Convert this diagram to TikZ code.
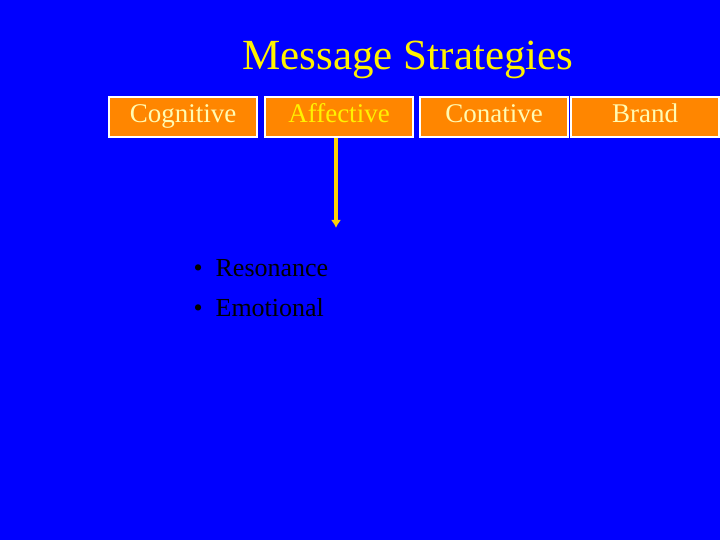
\documentclass[tikz,border=0pt]{standalone}
\usepackage{fontspec}
\setmainfont{Liberation Serif}
\usetikzlibrary{arrows.meta}
\begin{document}
\begin{tikzpicture}[x=1pt,y=-1pt,
  box/.style={draw=white,line width=2pt,fill=orange!95!yellow,minimum width=148pt,minimum height=40pt,inner sep=0pt,text height=18pt,text depth=6pt,font=\fontsize{27}{30}\selectfont,text=yellow!30!white},
  txt/.style={font=\fontsize{26}{30}\selectfont,text=black}]
\fill[blue] (0,0) rectangle (720,540);
\useasboundingbox (0,0) rectangle (720,540);
\node[text=yellow,font=\fontsize{43}{48}\selectfont] (title) at (408,60) {Message Strategies};
\node[box] (cog) at (183,117) {Cognitive};
\node[box,text=yellow] (aff) at (339,117) {Affective};
\node[box] (con) at (494,117) {Conative};
\node[box] (bra) at (645,117) {Brand};
\coordinate (end) at (336,228);
\draw[yellow!70!orange,line width=3.5pt,-{Latex[length=8pt,width=10pt]}] (336,138) -- (end);
\node[txt,anchor=west] (r) at (190,268) {\textbullet\ \ Resonance};
\node[txt,anchor=west] (e) at (190,308) {\textbullet\ \ Emotional};
\end{tikzpicture}
\end{document}
